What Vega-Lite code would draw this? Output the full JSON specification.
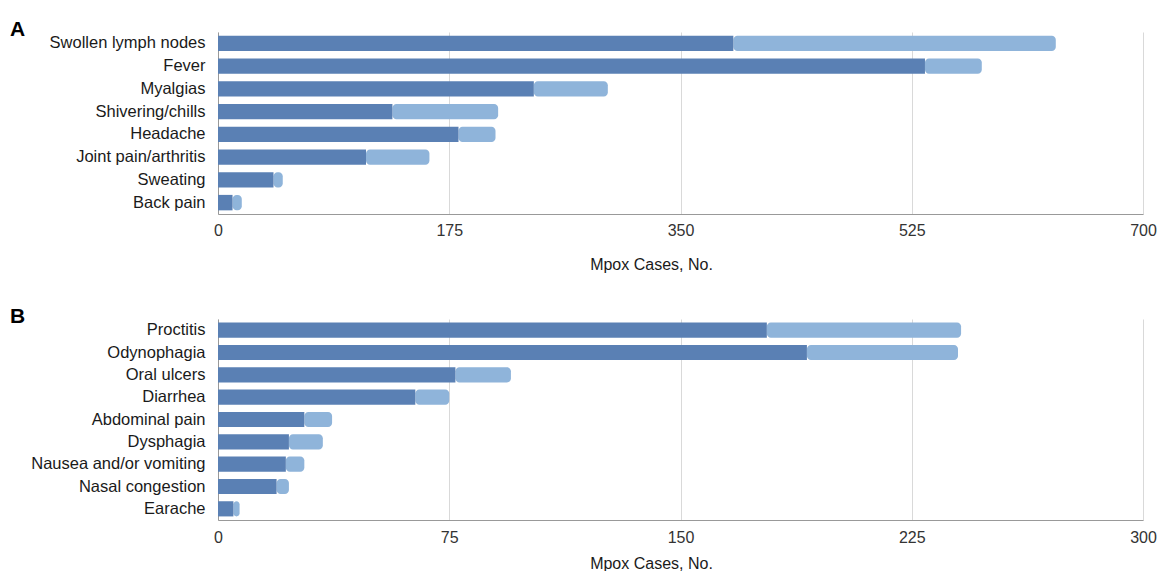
{
  "$schema": "https://vega.github.io/schema/vega-lite/v6.json",
  "padding": {"left": 10, "top": 19, "right": 15, "bottom": 0},
  "background": "white",
  "config": {
    "font": "Liberation Sans",
    "view": {"stroke": null},
    "axis": {"labelFont": "Liberation Sans", "titleFont": "Liberation Sans"},
    "title": {"font": "Liberation Sans"}
  },
  "datasets": {
    "a": [
      {"symptom": "Swollen lymph nodes", "group": "Group 1", "cases": 390},
      {"symptom": "Swollen lymph nodes", "group": "Group 2", "cases": 244},
      {"symptom": "Fever", "group": "Group 1", "cases": 535},
      {"symptom": "Fever", "group": "Group 2", "cases": 43},
      {"symptom": "Myalgias", "group": "Group 1", "cases": 239},
      {"symptom": "Myalgias", "group": "Group 2", "cases": 56},
      {"symptom": "Shivering/chills", "group": "Group 1", "cases": 132},
      {"symptom": "Shivering/chills", "group": "Group 2", "cases": 80},
      {"symptom": "Headache", "group": "Group 1", "cases": 182},
      {"symptom": "Headache", "group": "Group 2", "cases": 28},
      {"symptom": "Joint pain/arthritis", "group": "Group 1", "cases": 112},
      {"symptom": "Joint pain/arthritis", "group": "Group 2", "cases": 48},
      {"symptom": "Sweating", "group": "Group 1", "cases": 42},
      {"symptom": "Sweating", "group": "Group 2", "cases": 7},
      {"symptom": "Back pain", "group": "Group 1", "cases": 11},
      {"symptom": "Back pain", "group": "Group 2", "cases": 7}
    ],
    "b": [
      {"symptom": "Proctitis", "group": "Group 1", "cases": 178},
      {"symptom": "Proctitis", "group": "Group 2", "cases": 63},
      {"symptom": "Odynophagia", "group": "Group 1", "cases": 191},
      {"symptom": "Odynophagia", "group": "Group 2", "cases": 49},
      {"symptom": "Oral ulcers", "group": "Group 1", "cases": 77},
      {"symptom": "Oral ulcers", "group": "Group 2", "cases": 18},
      {"symptom": "Diarrhea", "group": "Group 1", "cases": 64},
      {"symptom": "Diarrhea", "group": "Group 2", "cases": 11},
      {"symptom": "Abdominal pain", "group": "Group 1", "cases": 28},
      {"symptom": "Abdominal pain", "group": "Group 2", "cases": 9},
      {"symptom": "Dysphagia", "group": "Group 1", "cases": 23},
      {"symptom": "Dysphagia", "group": "Group 2", "cases": 11},
      {"symptom": "Nausea and/or vomiting", "group": "Group 1", "cases": 22},
      {"symptom": "Nausea and/or vomiting", "group": "Group 2", "cases": 6},
      {"symptom": "Nasal congestion", "group": "Group 1", "cases": 19},
      {"symptom": "Nasal congestion", "group": "Group 2", "cases": 4},
      {"symptom": "Earache", "group": "Group 1", "cases": 5},
      {"symptom": "Earache", "group": "Group 2", "cases": 2}
    ]
  },
  "spacing": 34,
  "vconcat": [
    {
      "width": 925,
      "height": 182,
      "title": {"text": "A", "anchor": "start", "frame": "group", "dx": -208, "dy": 8, "fontSize": 21, "fontWeight": "bold", "color": "#000", "offset": 0},
      "data": {"name": "a"},
      "transform": [
        {"stack": "cases", "groupby": ["symptom"], "as": ["x0", "x1"], "sort": [{"field": "group", "order": "ascending"}]}
      ],
      "encoding": {
        "y": {"field": "symptom", "type": "nominal", "sort": null,
          "scale": {"paddingInner": 0.32, "paddingOuter": 0.16},
          "axis": {"title": null, "ticks": false, "labelFontSize": 16.5, "labelColor": "#1a1a1a", "labelPadding": 13, "domainColor": "#999", "labelLimit": 250}},
        "x": {"field": "x0", "type": "quantitative",
          "scale": {"domain": [0, 700], "nice": false},
          "axis": {"values": [0, 175, 350, 525, 700], "title": "Mpox Cases, No.", "titleFontSize": 16, "titleFontWeight": "normal", "titleColor": "#1a1a1a", "titlePadding": 18, "titleX": 433, "labelFontSize": 16, "labelColor": "#333", "labelPadding": 8, "ticks": false, "gridColor": "#d9d9d9", "domainColor": "#999", "labelFlush": false}},
        "x2": {"field": "x1"}
      },
      "layer": [
        {"transform": [{"filter": "datum.group === 'Group 2'"}], "mark": {"type": "bar", "color": "#8fb4da", "cornerRadiusEnd": 4}},
        {"transform": [{"filter": "datum.group === 'Group 1'"}], "mark": {"type": "bar", "color": "#5a80b4"}}
      ]
    },
    {
      "width": 925,
      "height": 201,
      "title": {"text": "B", "anchor": "start", "frame": "group", "dx": -208, "dy": 8, "fontSize": 21, "fontWeight": "bold", "color": "#000", "offset": 0},
      "data": {"name": "b"},
      "transform": [
        {"stack": "cases", "groupby": ["symptom"], "as": ["x0", "x1"], "sort": [{"field": "group", "order": "ascending"}]}
      ],
      "encoding": {
        "y": {"field": "symptom", "type": "nominal", "sort": null,
          "scale": {"paddingInner": 0.32, "paddingOuter": 0.16},
          "axis": {"title": null, "ticks": false, "labelFontSize": 16.5, "labelColor": "#1a1a1a", "labelPadding": 13, "domainColor": "#999", "labelLimit": 250}},
        "x": {"field": "x0", "type": "quantitative",
          "scale": {"domain": [0, 300], "nice": false},
          "axis": {"values": [0, 75, 150, 225, 300], "title": "Mpox Cases, No.", "titleFontSize": 16, "titleFontWeight": "normal", "titleColor": "#1a1a1a", "titlePadding": 10, "titleX": 433, "labelFontSize": 16, "labelColor": "#333", "labelPadding": 9, "ticks": false, "gridColor": "#d9d9d9", "domainColor": "#999", "labelFlush": false}},
        "x2": {"field": "x1"}
      },
      "layer": [
        {"transform": [{"filter": "datum.group === 'Group 2'"}], "mark": {"type": "bar", "color": "#8fb4da", "cornerRadiusEnd": 4}},
        {"transform": [{"filter": "datum.group === 'Group 1'"}], "mark": {"type": "bar", "color": "#5a80b4"}}
      ]
    }
  ]
}
